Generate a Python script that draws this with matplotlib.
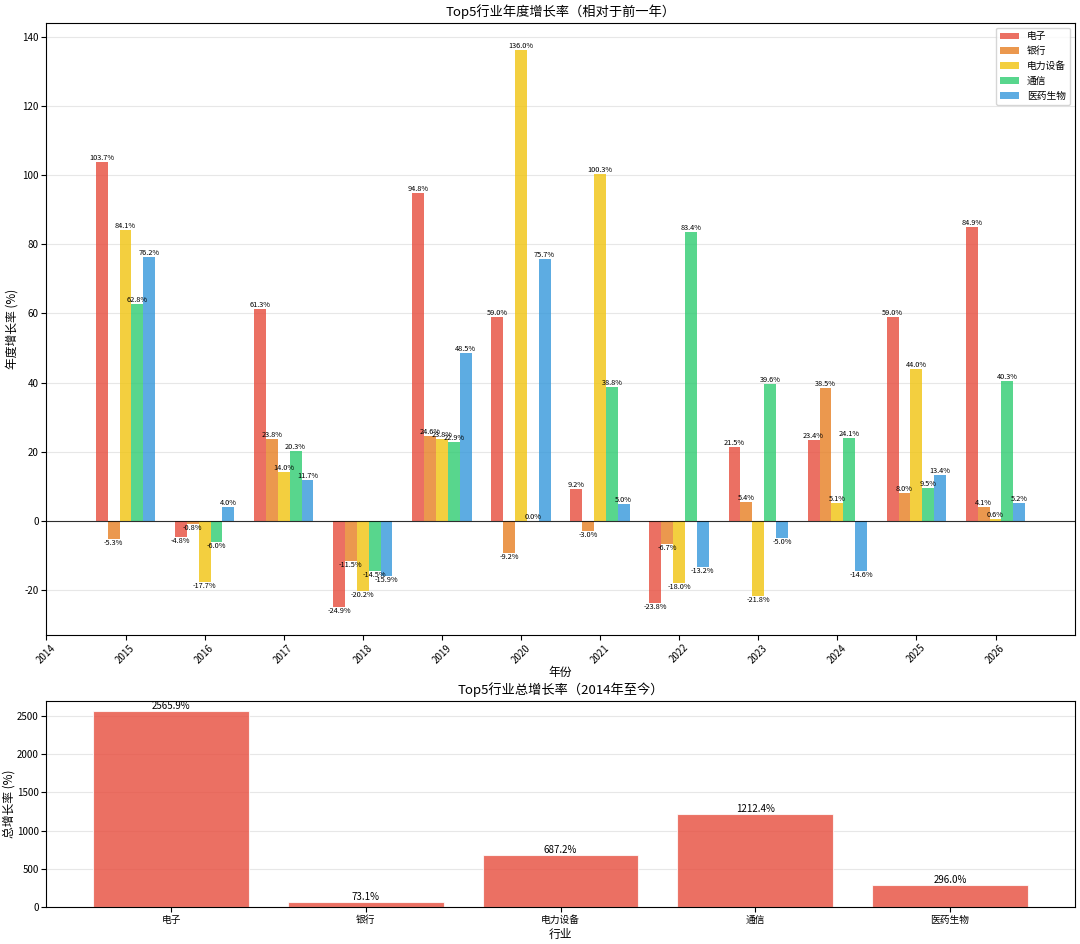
import numpy as np
import matplotlib
matplotlib.use('Agg')
import matplotlib.pyplot as plt

plt.rcParams['font.family'] = ['Noto Sans CJK SC', 'DejaVu Sans']
plt.rcParams['axes.unicode_minus'] = False

years = [2015, 2016, 2017, 2018, 2019, 2020, 2021, 2022, 2023, 2024, 2025, 2026]
industries = ['电子', '银行', '电力设备', '通信', '医药生物']
colors = ['#e74c3c', '#e67e22', '#f1c40f', '#2ecc71', '#3498db']

growth_dianzi = [103.7, -4.8, 61.3, -24.9, 94.8, 59.0, 9.2, -23.8, 21.5, 23.4, 59.0, 84.9]
growth_yinhang = [-5.3, -0.8, 23.8, -11.5, 24.6, -9.2, -3.0, -6.7, 5.4, 38.5, 8.0, 4.1]
growth_dianli = [84.1, -17.7, 14.0, -20.2, 23.8, 136.0, 100.3, -18.0, -21.8, 5.1, 44.0, 0.6]
growth_tongxin = [62.8, -6.0, 20.3, -14.5, 22.9, 0.0, 38.8, 83.4, 39.6, 24.1, 9.5, 40.3]
growth_yiyao = [76.2, 4.0, 11.7, -15.9, 48.5, 75.7, 5.0, -13.2, -5.0, -14.6, 13.4, 5.2]

total_growth = [2565.9, 73.1, 687.2, 1212.4, 296.0]


def add_labels(ax, bars, vals, size):
    for b, v in zip(bars, vals):
        x = b.get_x() + b.get_width() / 2
        va = 'bottom' if v >= 0 else 'top'
        ax.text(x, v, f'{v:.1f}%', ha='center', va=va, fontsize=size)


def main():
    fig = plt.figure(figsize=(10.8, 9.44), dpi=100)
    gs = fig.add_gridspec(2, 1, height_ratios=[612, 206], hspace=0.162,
                          left=0.043, right=0.995, top=0.976, bottom=0.039)
    ax1 = fig.add_subplot(gs[0])
    ax2 = fig.add_subplot(gs[1])

    series = [growth_dianzi, growth_yinhang, growth_dianli, growth_tongxin, growth_yiyao]
    x = np.array(years, dtype=float)
    w = 0.15
    for i, (name, vals) in enumerate(zip(industries, series)):
        bars = ax1.bar(x + (i - 2) * w, vals, w, label=name, color=colors[i], alpha=0.8)
        add_labels(ax1, bars, vals, 5.3)

    ax1.axhline(0, color='black', linewidth=0.8, alpha=0.8)
    ax1.set_title('Top5行业年度增长率（相对于前一年）', fontsize=9.5, pad=5)
    ax1.set_xlabel('年份', fontsize=8.5, labelpad=1)
    ax1.set_ylabel('年度增长率 (%)', fontsize=8.5, labelpad=3)
    ax1.set_xticks(range(2014, 2027))
    ax1.set_xlim(2014, 2027)
    ax1.tick_params(axis='x', rotation=45, labelsize=7, pad=2)
    ax1.tick_params(axis='y', labelsize=7, pad=2)
    ax1.grid(axis='y', alpha=0.3)
    ax1.set_axisbelow(True)
    ax1.legend(loc='upper right', fontsize=7)

    bars = ax2.bar(industries, total_growth, color=colors[0], alpha=0.8, width=0.8,
                   edgecolor='white', linewidth=0.8)
    add_labels(ax2, bars, total_growth, 7)
    ax2.set_title('Top5行业总增长率（2014年至今）', fontsize=9.5, pad=5)
    ax2.set_xlabel('行业', fontsize=8.5, labelpad=2)
    ax2.set_ylabel('总增长率 (%)', fontsize=8.5, labelpad=1)
    ax2.tick_params(labelsize=7, pad=2)
    ax2.grid(axis='y', alpha=0.3)
    ax2.set_axisbelow(True)

    fig.savefig('out.png', dpi=100)


if __name__ == '__main__':
    main()
